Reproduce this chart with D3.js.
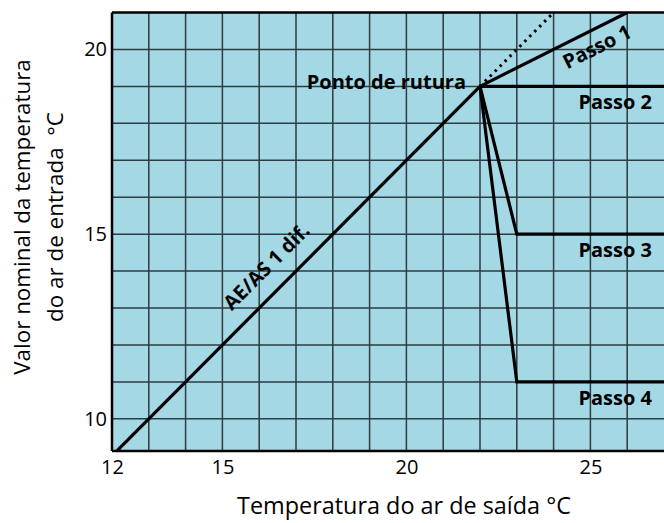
<!DOCTYPE html>
<html>
<head>
<meta charset="utf-8">
<script src="https://cdn.jsdelivr.net/npm/d3@7"></script>
<style>
  body { margin: 0; background: #fff; }
  svg { display: block; font-family: "Open Sans", "Noto Sans", sans-serif; }
</style>
</head>
<body>
<svg id="chart" width="664" height="523"></svg>
<script>
// ---- data ----
const xDomain = [12, 27];
const yDomain = [9.13, 21];
const xTickLabels = [12, 15, 20, 25];
const yTickLabels = [10, 15, 20];
const xGrid = [13, 14, 15, 16, 17, 18, 19, 20, 21, 22, 23, 24, 25, 26];
const yGrid = [10, 11, 12, 13, 14, 15, 16, 17, 18, 19, 20];

const diagonal = [[12, 9], [22, 19]];
const dottedExt = [[22, 19], [24, 21]];
const passo1 = [[22, 19], [26, 21]];
const passo2 = [[22, 19], [27, 19]];
const passo3 = [[22, 19], [23, 15], [27, 15]];
const passo4 = [[22, 19], [23, 11], [27, 11]];
const rupturePoint = [22, 19];

const stepLabels = ["Passo 2", "Passo 3", "Passo 4"];
const stepLabelY = [19, 15, 11];

// ---- layout ----
const pLeft = 112, pRight = 664, pTop = 12.5, pBottom = 451;
const svg = d3.select("#chart");
const x = d3.scaleLinear().domain(xDomain).range([pLeft, pRight]);
const y = d3.scaleLinear().domain(yDomain).range([pBottom, pTop]);

svg.append("defs").append("clipPath").attr("id", "clip")
  .append("rect").attr("x", pLeft).attr("y", pTop).attr("width", pRight - pLeft).attr("height", pBottom - pTop);

svg.append("rect").attr("x", pLeft).attr("y", pTop).attr("width", pRight - pLeft).attr("height", pBottom - pTop)
  .attr("fill", "#a5d8e5");

// grid
const grid = svg.append("g").attr("stroke", "#2c3c42").attr("stroke-width", 1.5);
grid.selectAll("line.v").data(xGrid).join("line").attr("class", "v")
  .attr("x1", d => x(d)).attr("x2", d => x(d)).attr("y1", pTop).attr("y2", pBottom);
grid.selectAll("line.h").data(yGrid).join("line").attr("class", "h")
  .attr("y1", d => y(d)).attr("y2", d => y(d)).attr("x1", pLeft).attr("x2", pRight);

// lines
const line = d3.line().x(d => x(d[0])).y(d => y(d[1]));
const g = svg.append("g").attr("clip-path", "url(#clip)").attr("fill", "none").attr("stroke", "#000")
  .attr("stroke-linejoin", "miter");
[diagonal, passo1, passo2, passo3, passo4].forEach(p => {
  g.append("path").attr("d", line(p)).attr("stroke-width", 3.2);
});
g.append("path").attr("d", line(dottedExt)).attr("stroke-width", 3).attr("stroke-dasharray", "2.5 4.5");

// frame
svg.append("line").attr("x1", pLeft).attr("x2", pLeft).attr("y1", pTop).attr("y2", pBottom)
  .attr("stroke", "#000").attr("stroke-width", 2.5);
svg.append("line").attr("x1", pLeft).attr("x2", pRight).attr("y1", pBottom).attr("y2", pBottom)
  .attr("stroke", "#000").attr("stroke-width", 2.5);
svg.append("line").attr("x1", pLeft).attr("x2", pRight).attr("y1", pTop).attr("y2", pTop)
  .attr("stroke", "#000").attr("stroke-width", 2.5);

const xAxis = d3.axisBottom(x).tickValues(xTickLabels).tickSize(0).tickPadding(9).tickFormat(d3.format("d"));
const xa = svg.append("g").attr("transform", `translate(0,${pBottom})`).call(xAxis);
xa.select(".domain").remove();
xa.selectAll("text").attr("font-size", 20).attr("fill", "#000").attr("font-family", "Open Sans");

const yAxis = d3.axisLeft(y).tickValues(yTickLabels).tickSize(0).tickPadding(5).tickFormat(d3.format("d"));
const ya = svg.append("g").attr("transform", `translate(${pLeft},0)`).call(yAxis);
ya.select(".domain").remove();
ya.selectAll("text").attr("font-size", 20).attr("fill", "#000").attr("font-family", "Open Sans");

// axis titles
svg.append("text").attr("x", 404).attr("y", 514).attr("text-anchor", "middle")
  .attr("font-size", 23.4).text("Temperatura do ar de saída °C");
const yt = svg.append("text").attr("transform", "translate(0,217) rotate(-90)").attr("text-anchor", "middle")
  .attr("font-size", 22.4);
yt.append("tspan").attr("x", 0).attr("y", 30).text("Valor nominal da temperatura");
yt.append("tspan").attr("x", 0).attr("y", 63).text("do ar de entrada\u00a0 °C");

// labels
const lab = svg.append("g").attr("font-weight", "bold").attr("font-size", 20).attr("fill", "#000");
lab.append("text").attr("x", x(rupturePoint[0]) - 14).attr("y", y(rupturePoint[1]) + 3)
  .attr("text-anchor", "end").text("Ponto de rutura");
lab.selectAll("text.step").data(stepLabels).join("text").attr("class", "step")
  .attr("x", 652).attr("y", (d, i) => y(stepLabelY[i]) + 23).attr("text-anchor", "end").text(d => d);

const p1mid = [24.97, 20.485];
lab.append("text").attr("transform", `translate(${x(p1mid[0])},${y(p1mid[1])}) rotate(-26.6)`)
  .attr("text-anchor", "middle").attr("dy", 24).text("Passo 1");

const aeMid = [16.66, 13.66];
lab.append("text").attr("transform", `translate(${x(aeMid[0])},${y(aeMid[1])}) rotate(-45)`)
  .attr("text-anchor", "middle").attr("dy", -17).text("AE/AS 1 dif.");
</script>
</body>
</html>
